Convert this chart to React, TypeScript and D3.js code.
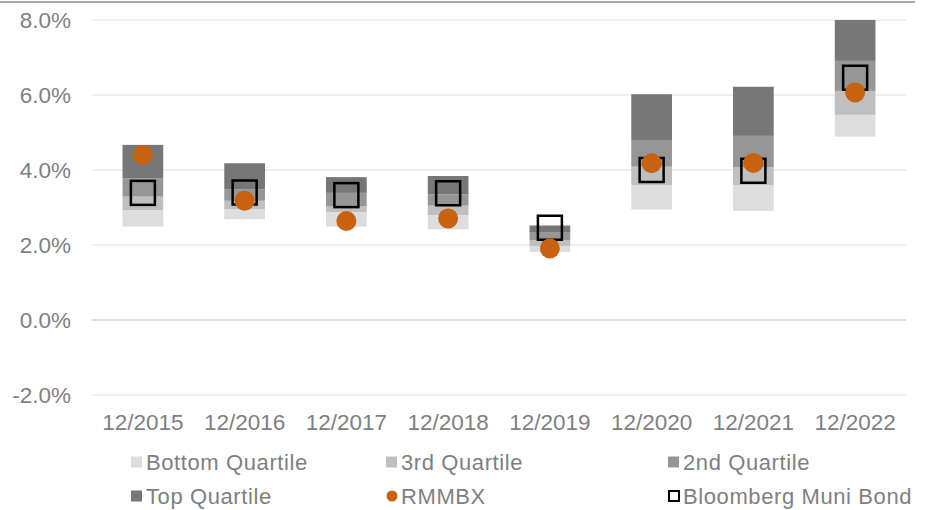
import React from "react";
import * as d3 from "d3";

const categories = ["12/2015", "12/2016", "12/2017", "12/2018", "12/2019", "12/2020", "12/2021", "12/2022"];
// quartile boundaries (%)
const rangeLow = [2.49, 2.69, 2.49, 2.42, 1.81, 2.95, 2.91, 4.89];
const q25 = [2.93, 2.96, 2.88, 2.80, 1.97, 3.60, 3.60, 5.47];
const q50 = [3.29, 3.18, 3.03, 3.05, 2.13, 4.09, 4.07, 6.11];
const q75 = [3.78, 3.48, 3.39, 3.35, 2.33, 4.80, 4.91, 6.91];
const rangeHigh = [4.67, 4.18, 3.81, 3.84, 2.52, 6.02, 6.22, 8.0];
const rmmbx = [4.40, 3.18, 2.64, 2.71, 1.91, 4.18, 4.19, 6.07];
const bloomberg = [3.39, 3.40, 3.33, 3.38, 2.46, 4.00, 3.98, 6.46];
const yTicks = [-2, 0, 2, 4, 6, 8];

const quartileNames = ["Bottom Quartile", "3rd Quartile", "2nd Quartile", "Top Quartile"];
const quartileColors = ["#dddddd", "#bfbfbf", "#969696", "#777777"];
const dotColor = "#c8620f";
const textColor = "#7f7f7f";
const font = "'Liberation Sans', Arial, sans-serif";

export default function App() {
  const W = 936, H = 510;
  const x = d3.scaleBand<string>().domain(categories).range([92, 906]).paddingInner(0.6).paddingOuter(0.3);
  const y = d3.scaleLinear().domain([-2, 8]).range([395, 20]);
  const bounds = [rangeLow, q25, q50, q75, rangeHigh];
  const fmt = (t: number) => t.toFixed(1) + "%";

  const legend = [
    { label: quartileNames[0], kind: "rect", color: quartileColors[0], lx: 131, ly: 462 },
    { label: quartileNames[1], kind: "rect", color: quartileColors[1], lx: 386, ly: 462 },
    { label: quartileNames[2], kind: "rect", color: quartileColors[2], lx: 668, ly: 462 },
    { label: quartileNames[3], kind: "rect", color: quartileColors[3], lx: 131, ly: 496 },
    { label: "RMMBX", kind: "dot", color: dotColor, lx: 386, ly: 496 },
    { label: "Bloomberg Muni Bond", kind: "square", color: "#000", lx: 668, ly: 496 },
  ];

  return (
    <svg width={W} height={H} style={{ position: "absolute", left: 0, top: 0, background: "#fff" }} fontFamily={font}>
      <line x1={0} x2={915} y1={2} y2={2} stroke="#8c8c8c" strokeWidth={1.5} />
      <defs>
        <clipPath id="plot">
          <rect x={80} y={y(8)} width={840} height={y(-2) - y(8)} />
        </clipPath>
      </defs>
      {yTicks.map((t) => (
        <g key={t}>
          <line x1={92} x2={906} y1={y(t)} y2={y(t)} stroke={t === 0 ? "#d9dce6" : "#efefef"} strokeWidth={2} />
          <text x={71} y={y(t)} dy="0.36em" textAnchor="end" fontSize={22.5} fill={textColor}>
            {fmt(t)}
          </text>
        </g>
      ))}
      <g clipPath="url(#plot)">
        {categories.map((c, i) =>
          quartileColors.map((col, k) => {
            const lo = bounds[k][i];
            const hi = bounds[k + 1][i];
            return (
              <rect key={c + k} x={x(c)} width={x.bandwidth()} y={y(hi)} height={y(lo) - y(hi)} fill={col} />
            );
          })
        )}
      </g>
      {categories.map((c, i) => (
        <rect key={"b" + c} x={(x(c) as number) + x.bandwidth() / 2 - 12} y={y(bloomberg[i]) - 12} width={24} height={24}
          fill="none" stroke="#000" strokeWidth={2.5} />
      ))}
      {categories.map((c, i) => (
        <circle key={"r" + c} cx={(x(c) as number) + x.bandwidth() / 2} cy={y(rmmbx[i])} r={10} fill={dotColor} />
      ))}
      {categories.map((c) => (
        <text key={"x" + c} x={(x(c) as number) + x.bandwidth() / 2} y={422} dy="0.36em" textAnchor="middle" fontSize={22.5} fill={textColor}>
          {c}
        </text>
      ))}
      {legend.map((l) => (
        <g key={l.label}>
          {l.kind === "rect" && <rect x={l.lx} y={l.ly - 5.5} width={11} height={11} fill={l.color} />}
          {l.kind === "dot" && <circle cx={l.lx + 6} cy={l.ly} r={5.5} fill={l.color} />}
          {l.kind === "square" && <rect x={l.lx + 1} y={l.ly - 5} width={10} height={10} fill="none" stroke="#000" strokeWidth={2} />}
          <text x={l.lx + 15} y={l.ly} dy="0.36em" fontSize={22} letterSpacing={0.6} fill={textColor}>{l.label}</text>
        </g>
      ))}
    </svg>
  );
}
